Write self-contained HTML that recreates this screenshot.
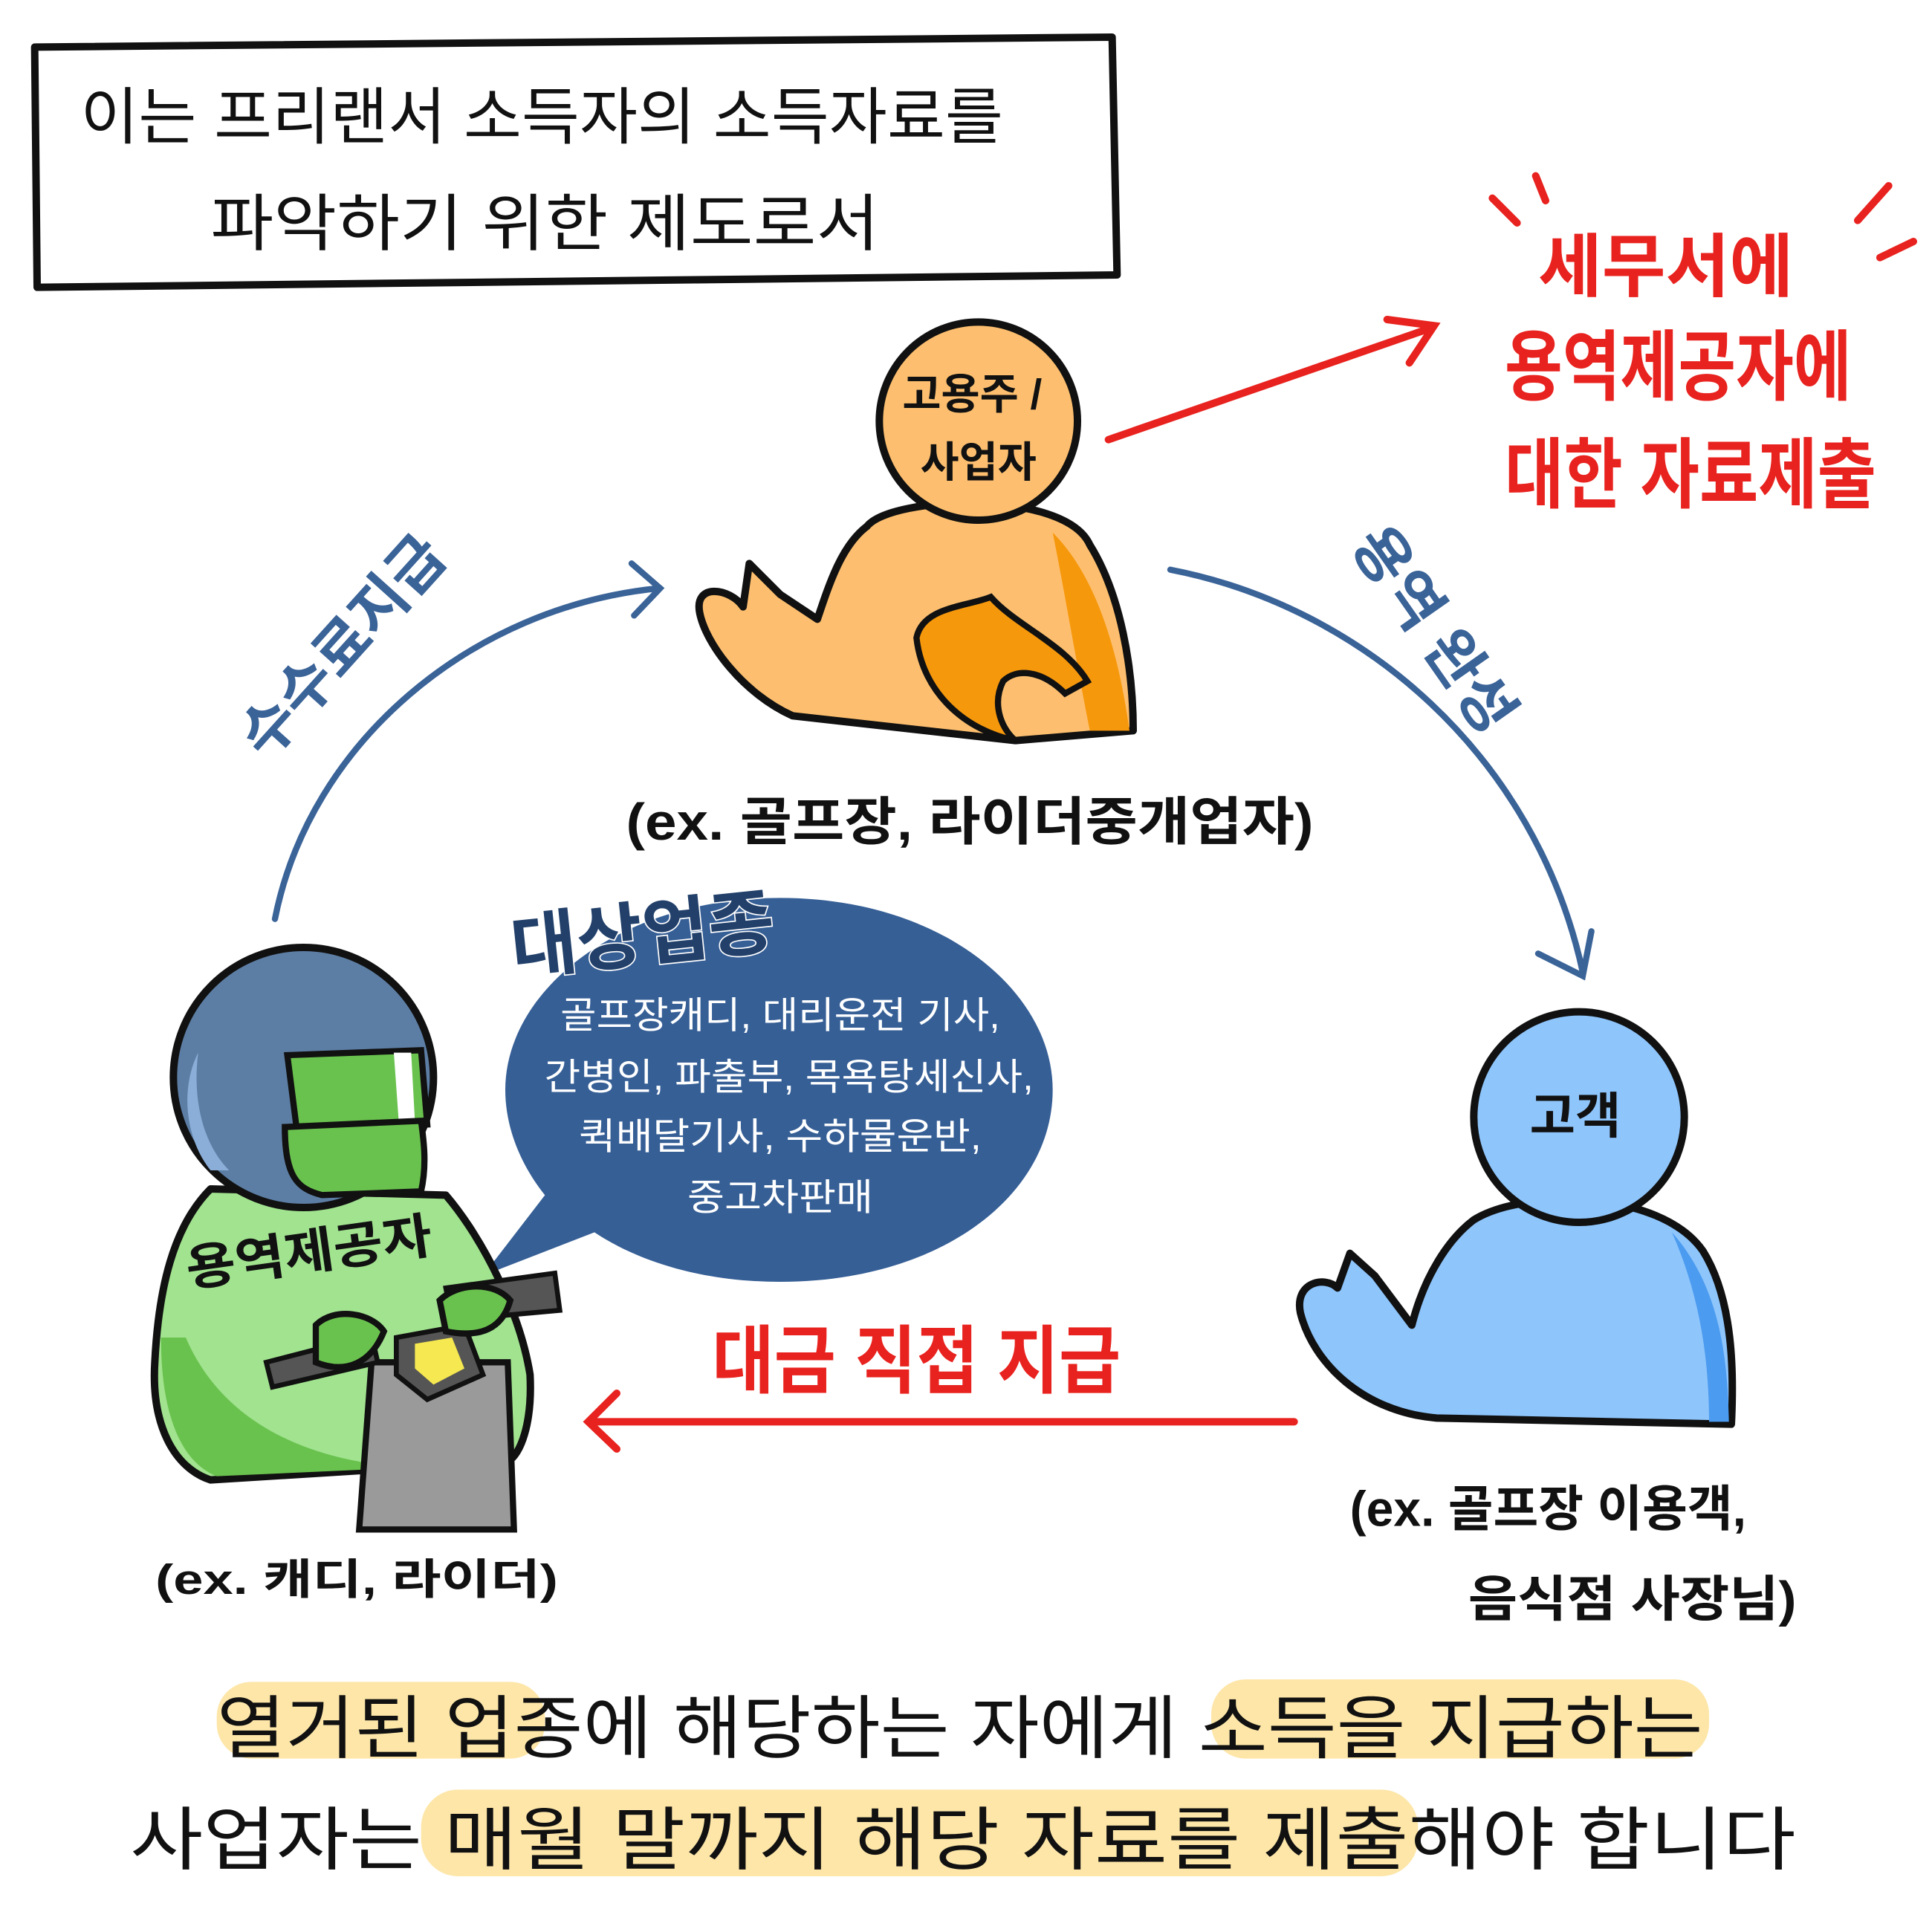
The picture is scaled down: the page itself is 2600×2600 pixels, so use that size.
<!DOCTYPE html>
<html><head><meta charset="utf-8"><style>
html,body{margin:0;padding:0;background:#fff}
svg{display:block}
text{font-family:"Liberation Sans","Noto Sans CJK KR",sans-serif}
</style></head><body>
<svg width="2600" height="2600" viewBox="0 0 1560 1560" xmlns="http://www.w3.org/2000/svg">
<rect width="1560" height="1560" fill="#fff"/>
<!-- title box -->
<path d="M28 38 L898 30 L902 222 L30 232 Z" fill="none" stroke="#111" stroke-width="6" stroke-linejoin="round"/>
<text x="65" y="112" font-size="50" textLength="745" lengthAdjust="spacingAndGlyphs" fill="#111">이는 프리랜서 소득자의 소득자료를</text>
<text x="170" y="198" font-size="50" textLength="540" lengthAdjust="spacingAndGlyphs" fill="#111">파악하기 위한 제도로서</text>

<!-- red callout -->
<g stroke="#e8221e" stroke-width="6" stroke-linecap="round" fill="none">
<path d="M1205 160 L1225 180"/><path d="M1240 142 L1248 162"/>
<path d="M1525 150 L1500 178"/><path d="M1545 195 L1518 208"/>
<path d="M895 355 L1155 265"/><path d="M1120 258 L1158 263 L1138 293"/>
<path d="M1045 1148 L478 1148"/><path d="M498 1125 L475 1148 L498 1170"/>
</g>
<g fill="#e8221e" font-weight="bold" text-anchor="middle">
<text x="1345" y="235" font-size="56">세무서에</text>
<text x="1355" y="318" font-size="62" textLength="280" lengthAdjust="spacingAndGlyphs">용역제공자에</text>
<text x="1365" y="405" font-size="62" textLength="300" lengthAdjust="spacingAndGlyphs">대한 자료제출</text>
<text x="740" y="1120" font-size="60" textLength="330" lengthAdjust="spacingAndGlyphs">대금 직접 지급</text>
</g>

<!-- blue arcs -->
<g stroke="#3a6398" stroke-width="5" fill="none" stroke-linecap="round">
<path d="M222 742 C250 600 380 490 532 475"/>
<path d="M510 455 L533 475 L512 497"/>
<path d="M945 460 C1100 490 1240 610 1278 785"/>
<path d="M1242 770 L1278 788 L1285 752"/>
</g>
<text font-size="48" font-weight="bold" fill="#3a6398" transform="translate(215 615) rotate(-48)">수수료지급</text>
<text font-size="48" font-weight="bold" fill="#3a6398" transform="translate(1090 440) rotate(55)">용역 완성</text>

<!-- orange person -->
<path d="M700 425 C720 400 860 395 880 440 C905 480 915 540 915 590 L820 598 L640 578 C600 560 570 520 565 495 C560 470 590 475 600 490 L605 455 L630 480 L660 500 C670 470 680 440 700 425 Z" fill="#fdbf6f" stroke="#111" stroke-width="6" stroke-linejoin="round"/>
<path d="M850 430 C890 470 905 540 912 590 L880 590 C870 540 860 480 850 430 Z" fill="#f6980c"/>
<path d="M740 515 C745 490 780 490 800 482 C820 505 860 520 878 550 L860 560 C840 540 820 540 810 550 C800 570 810 590 820 598 C780 590 745 560 740 515 Z" fill="#f6980c" stroke="#111" stroke-width="5"/>
<circle cx="790" cy="340" r="80" fill="#fdbf6f" stroke="#111" stroke-width="6"/>
<text x="785" y="330" font-size="34" font-weight="bold" text-anchor="middle" fill="#111">고용주 /</text>
<text x="790" y="385" font-size="34" font-weight="bold" text-anchor="middle" fill="#111">사업자</text>
<text x="783" y="678" font-size="42" font-weight="bold" text-anchor="middle" textLength="555" lengthAdjust="spacingAndGlyphs" fill="#111">(ex. 골프장, 라이더중개업자)</text>

<!-- blue person -->
<path d="M1190 985 C1230 960 1340 960 1375 1010 C1400 1050 1400 1110 1398 1150 L1160 1145 C1100 1140 1060 1100 1050 1060 C1045 1035 1070 1030 1080 1040 L1090 1012 L1110 1030 L1140 1070 C1150 1030 1170 1000 1190 985 Z" fill="#8ec5fb" stroke="#111" stroke-width="6" stroke-linejoin="round"/>
<path d="M1350 995 C1390 1040 1395 1100 1396 1148 L1380 1148 C1380 1090 1370 1040 1350 995 Z" fill="#4b9bf0"/>
<circle cx="1275" cy="902" r="85" fill="#8ec5fb" stroke="#111" stroke-width="6"/>
<text x="1272" y="915" font-size="40" font-weight="bold" text-anchor="middle" fill="#111">고객</text>
<text x="1250" y="1232" font-size="40" font-weight="bold" text-anchor="middle" textLength="320" lengthAdjust="spacingAndGlyphs" fill="#111">(ex. 골프장 이용객,</text>
<text x="1318" y="1305" font-size="40" font-weight="bold" text-anchor="middle" textLength="265" lengthAdjust="spacingAndGlyphs" fill="#111">음식점 사장님)</text>

<!-- speech bubble -->
<path d="M630 725 C760 725 850 800 850 880 C850 965 760 1035 630 1035 C560 1035 510 1015 480 995 L390 1030 L440 965 C420 940 408 910 408 880 C408 800 500 725 630 725 Z" fill="#365f96"/>
<text x="520" y="775" font-size="58" font-weight="bold" text-anchor="middle" fill="#22406a" stroke="#fff" stroke-width="2" paint-order="stroke" transform="rotate(-6 520 765)">대상업종</text>
<g fill="#fff" font-size="30" text-anchor="middle">
<text x="630" y="830" textLength="355" lengthAdjust="spacingAndGlyphs">골프장캐디, 대리운전 기사,</text>
<text x="637" y="880" textLength="395" lengthAdjust="spacingAndGlyphs">간병인, 파출부, 목욕탕세신사,</text>
<text x="630" y="928" textLength="325" lengthAdjust="spacingAndGlyphs">퀵배달기사, 수하물운반,</text>
<text x="630" y="977" textLength="150" lengthAdjust="spacingAndGlyphs">중고차판매</text>
</g>

<!-- green person -->
<path d="M170 960 L360 965 C390 1000 420 1060 428 1110 C430 1150 420 1175 410 1180 L170 1195 C140 1185 122 1150 125 1100 C128 1040 140 990 170 960 Z" fill="#a1e38f" stroke="#111" stroke-width="6" stroke-linejoin="round"/>
<path d="M130 1080 C130 1140 145 1180 175 1192 L330 1185 C250 1180 180 1150 150 1080 Z" fill="#6ac24e"/>
<path d="M300 1100 L410 1100 L415 1235 L290 1235 Z" fill="#9a9a9a" stroke="#111" stroke-width="5"/>
<path d="M320 1080 L375 1070 L390 1110 L345 1130 L320 1110 Z" fill="#555" stroke="#111" stroke-width="4"/>
<path d="M335 1085 L365 1080 L375 1105 L350 1118 L335 1105 Z" fill="#f5e850"/>
<path d="M215 1100 L300 1078 L305 1100 L220 1120 Z" fill="#555" stroke="#111" stroke-width="4"/>
<path d="M360 1040 L448 1028 L452 1058 L365 1066 Z" fill="#555" stroke="#111" stroke-width="4"/>
<path d="M255 1070 C270 1055 300 1060 310 1075 C300 1100 280 1110 255 1100 Z" fill="#6ac24e" stroke="#111" stroke-width="5"/>
<path d="M355 1050 C370 1035 400 1035 412 1050 C405 1075 385 1080 360 1075 Z" fill="#6ac24e" stroke="#111" stroke-width="5"/>
<circle cx="245" cy="870" r="105" fill="#5d7ea4" stroke="#111" stroke-width="6"/>
<path d="M160 850 C155 890 165 925 185 945 L170 945 C150 920 145 880 160 850 Z" fill="#8aaed8"/>
<path d="M232 852 L340 848 L345 908 L240 915 Z" fill="#6ac24e" stroke="#111" stroke-width="5"/>
<path d="M318 850 L332 850 L335 905 L322 906 Z" fill="#fff"/>
<path d="M230 910 C230 950 240 960 260 965 L340 962 C345 940 342 920 340 905 Z" fill="#6ac24e" stroke="#111" stroke-width="5"/>
<text x="250" y="1025" font-size="40" font-weight="bold" text-anchor="middle" textLength="200" lengthAdjust="spacingAndGlyphs" fill="#111" transform="rotate(-8 250 1015)">용역제공자</text>
<text x="288" y="1287" font-size="34" font-weight="bold" text-anchor="middle" textLength="325" lengthAdjust="spacingAndGlyphs" fill="#111">(ex. 캐디, 라이더)</text>

<!-- bottom -->
<g fill="#fde6a8">
<rect x="175" y="1358" width="265" height="62" rx="28"/>
<rect x="978" y="1356" width="402" height="64" rx="28"/>
<rect x="340" y="1445" width="805" height="70" rx="30"/>
</g>
<g fill="#111" font-size="56">
<text x="175" y="1415" textLength="1200" lengthAdjust="spacingAndGlyphs">열거된 업종에 해당하는 자에게 소득을 지급하는</text>
<text x="105" y="1505" textLength="1345" lengthAdjust="spacingAndGlyphs">사업자는 매월 말까지 해당 자료를 제출해야 합니다</text>
</g>
</svg>
</body></html>
